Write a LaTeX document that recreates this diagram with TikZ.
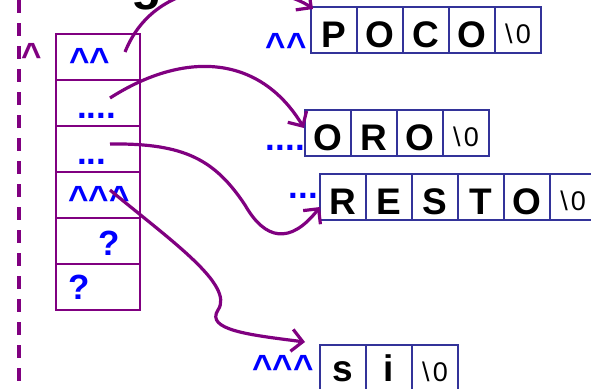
\documentclass[tikz,border=0pt]{standalone}
\usepackage{fontspec}
\setmainfont{Liberation Sans}
\usepackage{tikz}
\usetikzlibrary{positioning,calc,arrows.meta}
\definecolor{boxblue}{HTML}{333399}
\definecolor{ptrpurple}{HTML}{800080}
\tikzstyle{slot} = [rectangle, draw=ptrpurple, line width=2.6pt, minimum width=84pt, minimum height=46pt, inner sep=0pt, outer sep=0pt]
\tikzstyle{chr} = [rectangle, draw=boxblue, line width=2.8pt, minimum width=46pt, minimum height=46pt, inner sep=0pt, outer sep=0pt, text height=40pt, text depth=6pt, font=\bfseries\fontsize{37}{37}\selectfont]
\tikzstyle{nul} = [chr, text height=32pt, text depth=6pt, font=\fontsize{27}{27}\selectfont]
\tikzstyle{lbl} = [inner sep=0pt, text=blue, font=\bfseries\fontsize{35}{35}\selectfont]
\tikzstyle{ptr} = [line width=3.2pt, draw=ptrpurple, -{Straight Barb[length=11pt,width=22pt]}]

\begin{document}
\begin{tikzpicture}[x=1pt, y=-1pt]
            \useasboundingbox (0,0) rectangle (591,388);
            \node[anchor=base, inner sep=0pt, font=\bfseries\fontsize{50}{50}\selectfont] (title) at (147,-1) {g};

            % stack frame border and its pointer
            \draw[ptrpurple, line width=3.2pt, dash pattern=on 13pt off 10pt] (19,0) -- (19,388);
            \node[lbl, text=ptrpurple, anchor=base west] (hat) at (21,67) {\textasciicircum};

            % array of pointers
            \node[slot] (p1) at (98,57) {};
            \node[slot, below=0pt of p1] (p2) {};
            \node[slot, below=0pt of p2] (p3) {};
            \node[slot, below=0pt of p3] (p4) {};
            \node[slot, below=0pt of p4] (p5) {};
            \node[slot, below=0pt of p5] (p6) {};
            \node[lbl, anchor=base west] (l1) at (69,72) {\textasciicircum\textasciicircum};
            \node[lbl, anchor=base west] (l2) at (77,118) {....};
            \node[lbl, anchor=base west] (l3) at (77,164) {...};
            \node[lbl, anchor=base west] (l4) at (68,210) {\textasciicircum\textasciicircum\textasciicircum};
            \node[lbl, anchor=base west] (l5) at (98,255) {?};
            \node[lbl, anchor=base west] (l6) at (68,299) {?};

            % strings
            \node[chr] (poco1) at (334,30) {P}; \node[chr, right=0pt of poco1] (poco2) {O}; \node[chr, right=0pt of poco2] (poco3) {C}; \node[chr, right=0pt of poco3] (poco4) {O}; \node[nul, right=0pt of poco4] (poco5) {\textbackslash\hspace{3pt}0};
            \node[chr] (oro1) at (328,133) {O}; \node[chr, right=0pt of oro1] (oro2) {R}; \node[chr, right=0pt of oro2] (oro3) {O}; \node[nul, right=0pt of oro3] (oro4) {\textbackslash\hspace{3pt}0};
            \node[chr] (resto1) at (343,197) {R}; \node[chr, right=0pt of resto1] (resto2) {E}; \node[chr, right=0pt of resto2] (resto3) {S}; \node[chr, right=0pt of resto3] (resto4) {T}; \node[chr, right=0pt of resto4] (resto5) {O}; \node[nul, right=0pt of resto5] (resto6) {\textbackslash\hspace{3pt}0};
            \node[chr, text height=36pt, text depth=10pt] (si1) at (343,368) {s}; \node[chr, text height=36pt, text depth=10pt, right=0pt of si1] (si2) {i}; \node[nul, right=0pt of si2] (si3) {\textbackslash\hspace{3pt}0};

            \node[lbl, anchor=base east] (lpoco) at (307,57) {\textasciicircum\textasciicircum};
            \node[lbl, anchor=base east] (loro) at (305,150) {....};
            \node[lbl, anchor=base east] (lresto) at (318,198) {...};
            \node[lbl, anchor=base east] (lsi) at (314,379) {\textasciicircum\textasciicircum\textasciicircum};

            \draw[ptr] ($(p1.east)+(-15,-5)$) .. controls (162,-40) and (285,-12) .. ($(poco1.north west)+(2,2)$);
            \draw[ptr] ($(p2.east)+(-30,-5)$) .. controls (185,50) and (260,55) .. ($(oro1.west)+(-1,-5)$);
            \draw[ptr] ($(p3.east)+(-30,-5)$) .. controls (185,143) and (215,160) .. (245,205) .. controls (265,240) and (290,245) .. ($(resto1.west)+(0,10)$);
            \draw[ptr] ($(p4.east)+(-30,-5)$) .. controls (170,240) and (235,285) .. (218,310) .. controls (205,330) and (250,335) .. ($(si1.north west)+(-15,-3)$);
            \end{tikzpicture}
\end{document}
